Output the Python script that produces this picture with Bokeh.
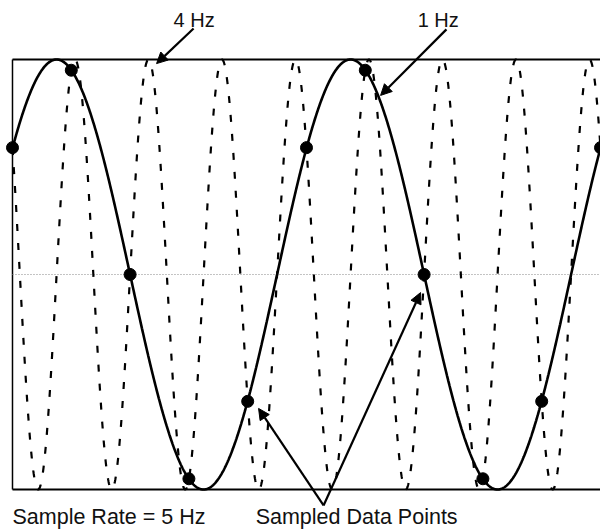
import numpy as np
from bokeh.plotting import figure
from bokeh.models import Range1d, Label, Arrow, NormalHead
from bokeh.embed import file_html
from bokeh.resources import INLINE

# ---- data ----
signal_names = ["1 Hz", "4 Hz"]
signal_freqs = [1.0, 4.0]          # Hz
signal_phases_deg = [36.0, 144.0]  # phase at t = 0
sample_rate = 5.0                  # Hz
sample_times = [0.0, 0.2, 0.4, 0.6, 0.8, 1.0, 1.2, 1.4, 1.6, 1.8, 2.0]
sample_values = [0.59, 0.95, 0.0, -0.95, -0.59, 0.59, 0.95, 0.0, -0.95, -0.59, 0.59]
t_span = [0.0, 2.0]

FONT = "Liberation Sans"

p = figure(width=600, height=529, frame_width=600, frame_height=529,
           min_border=0,
           x_range=Range1d(-0.0408, 2.0), y_range=Range1d(-1.186, 1.2744),
           x_axis_location=None, y_axis_location=None,
           toolbar_location=None, output_backend="svg")
p.grid.visible = False
p.outline_line_color = None
p.background_fill_color = "white"
p.border_fill_color = "white"

# frame box (top, bottom, left)
p.segment(x0=[t_span[0], t_span[0], t_span[0]], y0=[1, -1, -1],
          x1=[t_span[1], t_span[1], t_span[0]], y1=[1, -1, 1],
          line_color="black", line_width=[2, 2, 1.5])

# zero line (dotted)
p.segment(x0=[t_span[0]], y0=[0], x1=[t_span[1]], y1=[0],
          line_color="#888888", line_width=1, line_dash="1 2")

t = np.linspace(t_span[0], t_span[1], 1500)
styles = {"1 Hz": dict(line_width=2.6, line_dash="solid"),
          "4 Hz": dict(line_width=2.2, line_dash="7 12")}
for name, f, ph in zip(signal_names, signal_freqs, signal_phases_deg):
    y = np.sin(2 * np.pi * f * t + np.deg2rad(ph))
    p.line(t, y, line_color="black", **styles[name])

p.scatter(sample_times, sample_values, size=12, fill_color="black", line_color="black")

# annotations
p.add_layout(Label(x=0.548, y=1.186, text="4 Hz", text_font=FONT, text_font_size="20px",
                   text_baseline="alphabetic", text_color="#111111"))
p.add_layout(Label(x=1.378, y=1.186, text="1 Hz", text_font=FONT, text_font_size="20px",
                   text_baseline="alphabetic", text_color="#111111"))
p.add_layout(Label(x=0.0, y=-1.128, text="Sample Rate = %g Hz" % sample_rate, text_font=FONT,
                   text_font_size="21.5px", text_baseline="alphabetic", text_color="#111111"))
p.add_layout(Label(x=0.827, y=-1.128, text="Sampled Data Points", text_font=FONT,
                   text_font_size="21.5px", text_baseline="alphabetic", text_color="#111111"))

def head():
    return NormalHead(size=11, fill_color="black", line_color="black")

arrows = [(0.616, 1.144, 0.490, 0.981),
          (1.476, 1.140, 1.252, 0.833),
          (1.058, -1.074, 0.837, -0.623),
          (1.058, -1.074, 1.388, -0.084)]
for xs, ys, xe, ye in arrows:
    p.add_layout(Arrow(end=head(), x_start=xs, y_start=ys, x_end=xe, y_end=ye,
                       line_color="black", line_width=2.2))

open("out.html", "w").write(file_html(p, INLINE))
